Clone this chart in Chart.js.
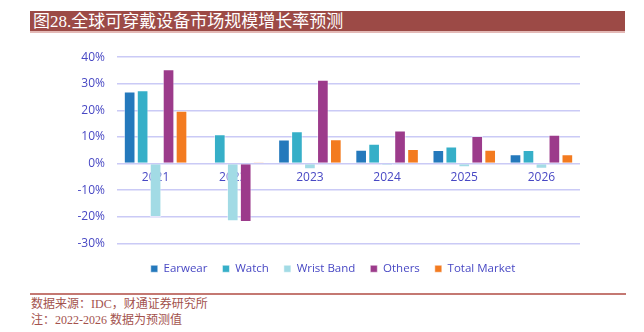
<!DOCTYPE html>
<html>
<head>
<meta charset="utf-8">
<script src="https://cdn.jsdelivr.net/npm/chart.js@4/dist/chart.umd.min.js"></script>
<style>
  body { margin: 0; width: 644px; height: 332px; background: #fff; position: relative; overflow: hidden; }
  #title {
    position: absolute; left: 30px; top: 11px; width: 595px; height: 22px;
    background: #9c4a46; border-bottom: 2px solid #e3b9b6;
    color: #fff; font-family: "Liberation Serif", "Noto Sans CJK SC", serif;
    font-size: 17px; line-height: 22px; padding-left: 3px; box-sizing: border-box;
  }
  #wrap { position: absolute; left: 0; top: 37.5px; width: 644px; height: 246.5px; }
  #footer {
    position: absolute; left: 30px; top: 293px; width: 595px;
    border-top: 2px solid #c47872;
    color: #a3524d; font-family: "Liberation Serif", "Noto Sans CJK SC", serif;
    font-size: 12px; line-height: 16px; padding-top: 1px; padding-left: 1px;
  }
</style>
</head>
<body>
<div id="title">图28.全球可穿戴设备市场规模增长率预测</div>
<div id="wrap"><canvas id="chart"></canvas></div>
<div id="footer">数据来源：IDC，财通证券研究所<br>注：2022-2026 数据为预测值</div>
<script>
// categories and series (growth rate, %)
var years = ['2021', '2022', '2023', '2024', '2025', '2026'];
var earwear = [27.1, 0, 9.0, 5.2, 5.1, 3.5];
var watch = [27.6, 11.0, 12.1, 7.4, 6.4, 5.1];
var wristBand = [-20.1, -21.7, -2.1, -0.7, -1.4, -2.0];
var others = [35.5, -22.0, 31.5, 12.4, 10.4, 10.8];
var totalMarket = [19.9, 0.5, 9.1, 5.5, 5.2, 3.5];

var tickColor = '#4848c4';
var gridColor = '#cacaf6';

function series(label, data, color) {
    return {
        label: label,
        data: data,
        backgroundColor: color,
        borderColor: 'rgba(255,255,255,0.5)',
        borderWidth: 1,
        categoryPercentage: 0.84,
        barPercentage: 0.9
    };
}

new Chart(document.getElementById('chart'), {
    type: 'bar',
    data: {
        labels: years,
        datasets: [
            series('Earwear', earwear, '#2479bc'),
            series('Watch', watch, '#36afc8'),
            series('Wrist Band', wristBand, '#a2dbe5'),
            series('Others', others, '#9c3b8b'),
            series('Total Market', totalMarket, '#f37b20')
        ]
    },
    options: {
        responsive: true,
        maintainAspectRatio: false,
        animation: false,
        layout: { padding: { top: 13, right: 0, left: 22, bottom: 0 } },
        scales: {
            y: {
                min: -30,
                max: 40,
                ticks: {
                    stepSize: 10,
                    color: tickColor,
                    padding: 12,
                    font: { family: 'Open Sans', size: 12 },
                    callback: function (v) { return v + '%'; }
                },
                grid: { color: gridColor, lineWidth: 1.5, drawTicks: false },
                border: { display: false },
                afterFit: function (scale) { scale.width = 95; }
            },
            // empty right axis, only keeps space on the right side
            y2: {
                position: 'right',
                min: 0,
                max: 1,
                ticks: { display: false },
                grid: { display: false },
                border: { display: false },
                afterFit: function (scale) { scale.width = 64; }
            },
            x: {
                position: { y: 0 },
                ticks: {
                    color: tickColor,
                    padding: 7,
                    font: { family: 'Open Sans', size: 12 }
                },
                grid: { display: false, drawTicks: false },
                border: { display: false }
            }
        },
        plugins: {
            tooltip: { enabled: false },
            legend: {
                position: 'bottom',
                // empty title just adds a little room above the legend items
                title: { display: true, text: '', font: { size: 1 }, padding: { top: 3.5, bottom: 0 } },
                labels: {
                    boxWidth: 7,
                    boxHeight: 7,
                    padding: 15,
                    color: tickColor,
                    font: { family: 'Open Sans', size: 11.5 }
                }
            }
        }
    }
});
</script>
</body>
</html>
